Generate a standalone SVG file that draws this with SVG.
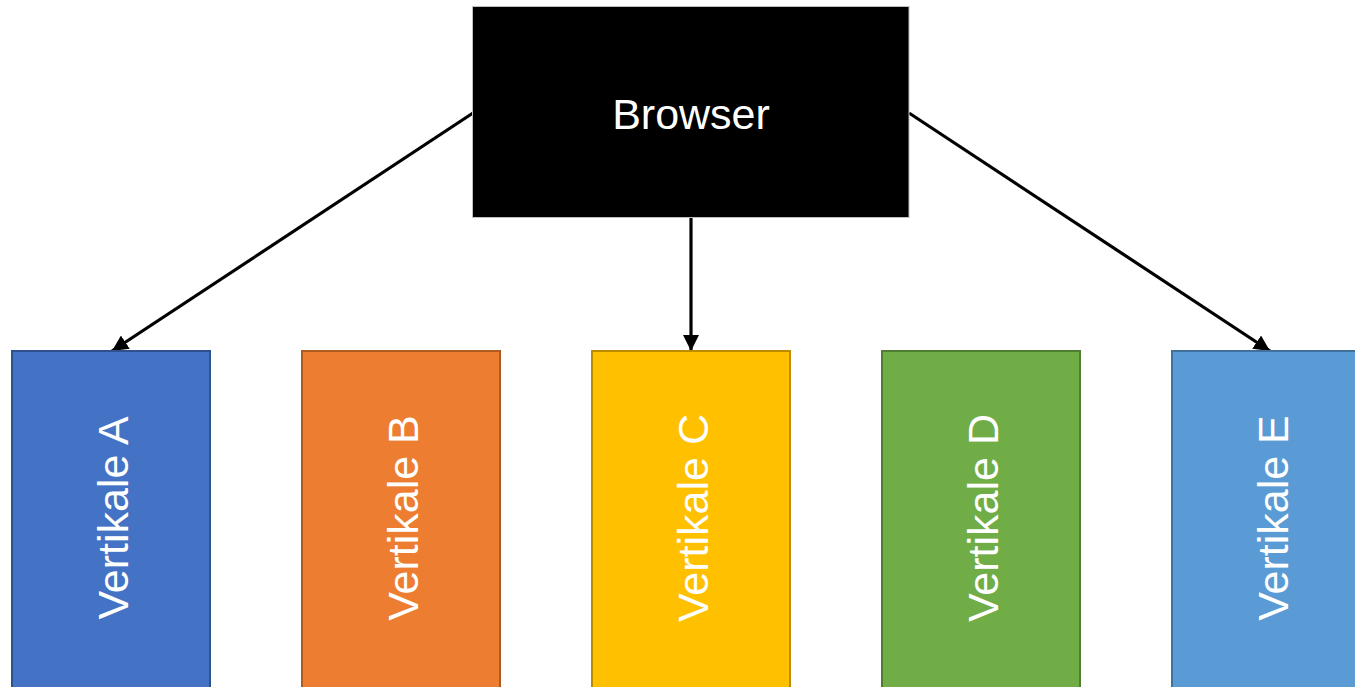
<svg xmlns="http://www.w3.org/2000/svg" width="1355" height="687" viewBox="0 0 1355 687">
  <style>
    .label { font-family: "Liberation Sans", Arial, sans-serif; font-size: 43px; fill: #ffffff; }
    .vert { stroke-width: 2; }
    .link { stroke: #000000; stroke-width: 3.2; fill: none; marker-end: url(#arrow); }
  </style>
  <defs>
    <marker id="arrow" viewBox="0 0 10 10" refX="10" refY="5" markerWidth="5" markerHeight="5" orient="auto" markerUnits="strokeWidth">
      <path d="M0,0 L10,5 L0,10 z" fill="#000000"/>
    </marker>
  </defs>
  <rect width="1355" height="687" fill="#ffffff"/>

  <g id="connectors">
    <line class="link" x1="473" y1="113" x2="112" y2="351"/>
    <line class="link" x1="691" y1="218" x2="691" y2="351"/>
    <line class="link" x1="909" y1="113" x2="1270" y2="351"/>
  </g>

  <g id="browser">
    <rect x="472.5" y="6.5" width="436.5" height="211" fill="#000000" stroke="#bfbfbf" stroke-width="1"/>
    <text class="label" x="691" y="129" text-anchor="middle">Browser</text>
  </g>

  <g id="vertikale-a">
    <rect class="vert" x="12" y="351" width="198" height="360" fill="#4472C4" stroke="#2F528F"/>
    <text class="label" transform="translate(128,518) rotate(-90)" text-anchor="middle">Vertikale A</text>
  </g>
  <g id="vertikale-b">
    <rect class="vert" x="302" y="351" width="198" height="360" fill="#ED7D31" stroke="#AE5A21"/>
    <text class="label" transform="translate(418,518) rotate(-90)" text-anchor="middle">Vertikale B</text>
  </g>
  <g id="vertikale-c">
    <rect class="vert" x="592" y="351" width="198" height="360" fill="#FFC000" stroke="#BC8C00"/>
    <text class="label" transform="translate(708,518) rotate(-90)" text-anchor="middle">Vertikale C</text>
  </g>
  <g id="vertikale-d">
    <rect class="vert" x="882" y="351" width="198" height="360" fill="#70AD47" stroke="#507E32"/>
    <text class="label" transform="translate(998,518) rotate(-90)" text-anchor="middle">Vertikale D</text>
  </g>
  <g id="vertikale-e">
    <rect class="vert" x="1172" y="351" width="198" height="360" fill="#5B9BD5" stroke="#41719C"/>
    <text class="label" transform="translate(1288,518) rotate(-90)" text-anchor="middle">Vertikale E</text>
  </g>
</svg>
